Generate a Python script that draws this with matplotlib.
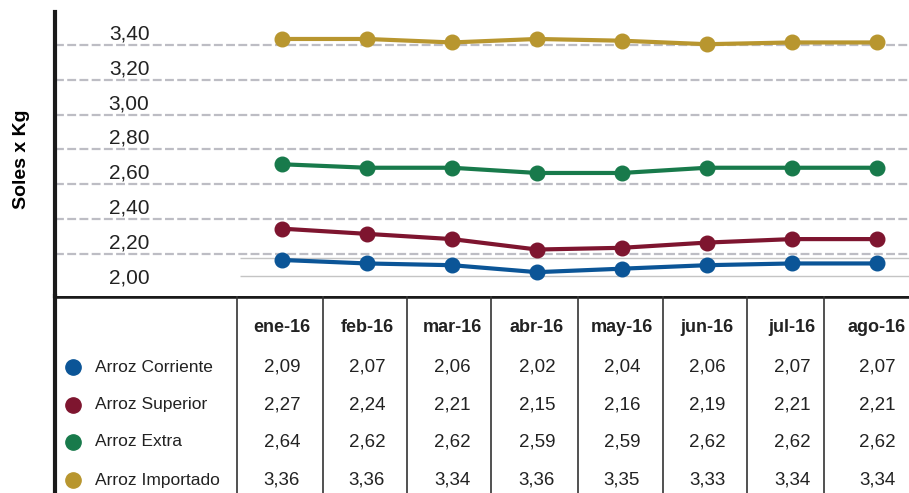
import matplotlib
matplotlib.use("Agg")
import matplotlib.pyplot as plt

months = ["ene-16", "feb-16", "mar-16", "abr-16", "may-16", "jun-16", "jul-16", "ago-16"]
series_names = ["Arroz Corriente", "Arroz Superior", "Arroz Extra", "Arroz Importado"]
corriente = [2.09, 2.07, 2.06, 2.02, 2.04, 2.06, 2.07, 2.07]
superior = [2.27, 2.24, 2.21, 2.15, 2.16, 2.19, 2.21, 2.21]
extra = [2.64, 2.62, 2.62, 2.59, 2.59, 2.62, 2.62, 2.62]
importado = [3.36, 3.36, 3.34, 3.36, 3.35, 3.33, 3.34, 3.34]
yticks = [2.00, 2.20, 2.40, 2.60, 2.80, 3.00, 3.20, 3.40]

colors = ["#0b5597", "#7e152f", "#187a4b", "#b8962f"]
values = [corriente, superior, extra, importado]

plt.rcParams["font.family"] = ["Liberation Sans", "DejaVu Sans"]

W, H = 909, 493
fig = plt.figure(figsize=(W / 100, H / 100), dpi=100)

# pixel layout
x0, x1 = 55, 909
top, mid = 12, 296
ax = fig.add_axes([x0 / W, (H - mid) / H, (x1 - x0) / W, (mid - top) / H])
tab = fig.add_axes([x0 / W, 0, (x1 - x0) / W, (H - mid) / H])

xs = list(range(len(months)))
xlim = (-(282 - x0) / 85, 7 + (x1 - 877) / 85)

# chart
for v, c in zip(values, colors):
    ax.plot(xs, v, color=c, lw=3, marker="o", ms=10.5, zorder=3)

ax.set_xlim(*xlim)
ax.set_ylim(1.883, 3.515)
for t in yticks[1:]:
    ax.axhline(t - 0.075, color="#bdbdc4", lw=1.6, ls=(0, (4, 1.5)), zorder=1)
ax.hlines([2.0, 2.1], -0.5, xlim[1], color="#c4c4c4", lw=1, zorder=1)

ax.set_yticks(yticks)
ax.set_yticklabels([f"{t:.2f}".replace(".", ",") for t in yticks], fontsize=15, color="#222222")
ax.tick_params(axis="y", length=0, pad=-68)
ax.set_xticks([])
for s in ["top", "right", "bottom"]:
    ax.spines[s].set_visible(False)
ax.spines["left"].set_linewidth(3)
ax.spines["left"].set_color("#1a1a1a")
ax.set_ylabel("Soles x Kg", fontsize=14, fontweight="bold")
ax.yaxis.set_label_coords(-(x0 - 30) / (x1 - x0), 0.48)

# table below
tab.set_xlim(*xlim)
tab.set_ylim(H - mid, 0)
tab.set_xticks([])
tab.set_yticks([])
for s in ["top", "right", "bottom"]:
    tab.spines[s].set_visible(False)
tab.spines["left"].set_linewidth(3)
tab.spines["left"].set_color("#1a1a1a")
tab.axhline(0, color="#1a1a1a", lw=4)
for vx in [-0.53, 0.48, 1.47, 2.46, 3.48, 4.48, 5.47, 6.38]:
    tab.axvline(vx, color="#333333", lw=1.2)

for x, m in zip(xs, months):
    tab.text(x, 328 - mid, m, ha="center", va="center", fontsize=13, fontweight="bold", color="#222222")

row_y = [367, 405, 442, 480]
lx = -(282 - 73) / 85
tx = -(282 - 95) / 85
for name, v, c, ry in zip(series_names, values, colors, row_y):
    tab.plot([lx], [ry - mid], marker="o", ms=11, color=c, clip_on=False)
    tab.text(tx, ry - mid, name, ha="left", va="center", fontsize=12.5, color="#222222")
    for x, val in zip(xs, v):
        tab.text(x, ry - mid, f"{val:.2f}".replace(".", ","), ha="center", va="center", fontsize=13.5, color="#222222")

fig.savefig("out.png", dpi=100)
